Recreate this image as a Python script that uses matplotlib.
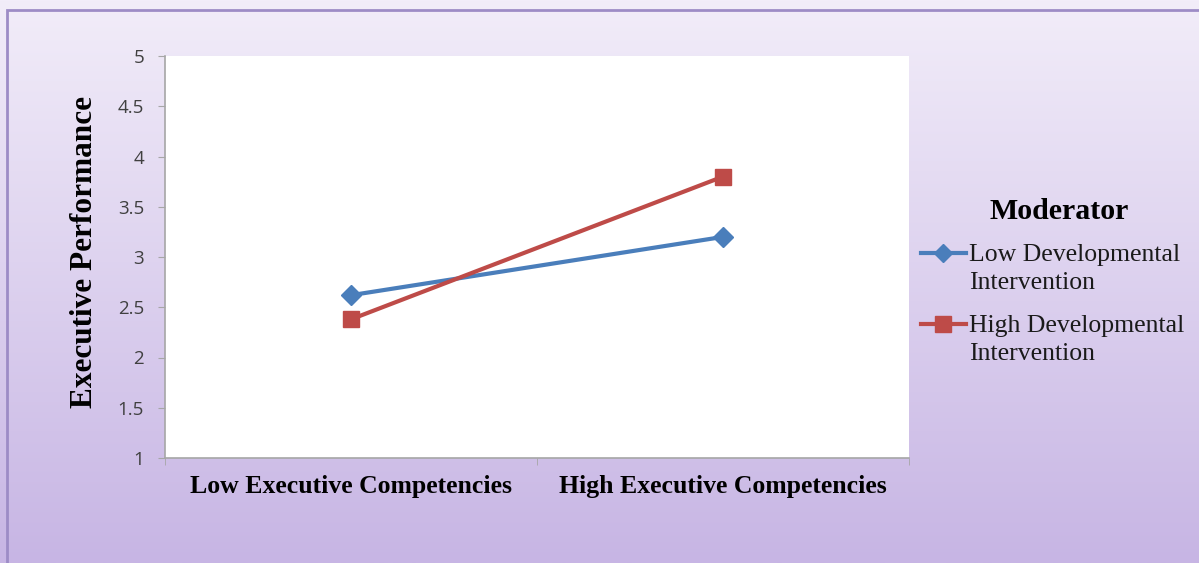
import numpy as np
import matplotlib
matplotlib.use("Agg")
import matplotlib.pyplot as plt
from matplotlib.patches import Rectangle
from matplotlib.lines import Line2D
from matplotlib.legend_handler import HandlerLine2D

categories = ["Low Executive Competencies", "High Executive Competencies"]
series_names = ["Low Developmental\nIntervention", "High Developmental\nIntervention"]
low_dev = [2.62, 3.2]
high_dev = [2.38, 3.8]
y_ticks = [1, 1.5, 2, 2.5, 3, 3.5, 4, 4.5, 5]
y_tick_labels = ["1", "1.5", "2", "2.5", "3", "3.5", "4", "4.5", "5"]

W, H = 1199, 563
fig = plt.figure(figsize=(W / 100, H / 100), dpi=100)

# background gradient
bg = fig.add_axes([0, 0, 1, 1], zorder=-10)
top = np.array([242, 237, 249]) / 255
bot = np.array([199, 181, 228]) / 255
t = np.linspace(0, 1, 256)[:, None]
grad = (top[None, :] * (1 - t) + bot[None, :] * t)[:, None, :]
bg.imshow(grad, aspect="auto", extent=[0, 1, 0, 1], origin="upper")
bg.set_xlim(0, 1)
bg.set_ylim(0, 1)
bg.axis("off")
bg.add_patch(Rectangle((7 / W, -0.01), 1.2, 1 - 10 / H + 0.01, fill=False,
                       edgecolor="#9d8cc6", linewidth=2.0))

ax = fig.add_axes([165 / W, 1 - 458 / H, (909 - 165) / W, (458 - 56) / H])
ax.set_facecolor("white")
x = np.arange(len(categories))
blue = "#4a7ebb"
red = "#be4b48"
ax.plot(x, low_dev, color=blue, lw=3, marker="D", markersize=10, label=series_names[0])
ax.plot(x, high_dev, color=red, lw=3, marker="s", markersize=12, label=series_names[1])

ax.set_xlim(-0.5, 1.5)
ax.set_ylim(1, 5)
ax.set_yticks(y_ticks)
ax.set_yticklabels(y_tick_labels, fontfamily="Open Sans", fontsize=13.5, color="#404040")
ax.set_xticks(x)
ax.set_xticklabels(categories, fontfamily="Liberation Serif", fontweight="bold", fontsize=18.5)
ax.tick_params(axis="x", length=0, pad=12)
ax.set_xticks([-0.5, 0.5, 1.5], minor=True)
ax.tick_params(axis="x", which="minor", length=5, color="#a6a6a6")
ax.tick_params(axis="y", length=5, color="#a6a6a6", pad=10)
for s in ["top", "right"]:
    ax.spines[s].set_visible(False)
for s in ["left", "bottom"]:
    ax.spines[s].set_color("#a6a6a6")
    ax.spines[s].set_linewidth(1.2)

fig.text(85 / W, 1 - 252 / H, "Executive Performance", rotation=90, ha="center", va="center",
         fontfamily="Liberation Serif", fontweight="bold", fontsize=22.5)

fig.text(1059 / W, 1 - 211 / H, "Moderator", ha="center", va="center",
         fontfamily="Liberation Serif", fontweight="bold", fontsize=21.5)


class TopAlignedHandler(HandlerLine2D):
    def __init__(self, shift, **kw):
        super().__init__(**kw)
        self.shift = shift

    def create_artists(self, legend, orig_handle, xdescent, ydescent, width, height, fontsize, trans):
        return super().create_artists(legend, orig_handle, xdescent, ydescent - 2 * self.shift,
                                      width, height, fontsize, trans)


handles = [Line2D([], [], color=blue, lw=3, marker="D", markersize=9),
           Line2D([], [], color=red, lw=3, marker="s", markersize=11)]
hmap = {h: TopAlignedHandler(11.0) for h in handles}
leg = fig.legend(handles, series_names, loc="upper left", bbox_to_anchor=(921 / W, 1 - 244 / H),
                 frameon=False, prop={"family": "Liberation Serif", "size": 18.5},
                 handlelength=1.75, handletextpad=0.1, labelspacing=0.83, borderpad=0, borderaxespad=0,
                 handler_map=hmap)
for txt in leg.get_texts():
    txt.set_linespacing(1.35)
    txt.set_color("#1a1a1a")

fig.savefig("out.png", dpi=100)
